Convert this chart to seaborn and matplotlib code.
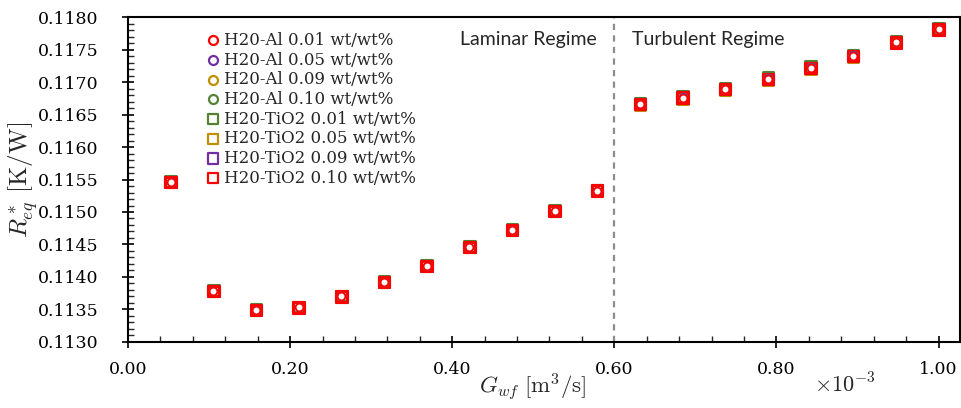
import numpy as np
import pandas as pd
import seaborn as sns
import matplotlib
matplotlib.use("Agg")
import matplotlib.pyplot as plt
from matplotlib.ticker import MultipleLocator, AutoMinorLocator, FormatStrFormatter

# ---------------- data ----------------
flow = [0.0526, 0.1053, 0.1579, 0.2105, 0.2632, 0.3158, 0.3684, 0.4211, 0.4737, 0.5263,
        0.5789, 0.6316, 0.6842, 0.7368, 0.7895, 0.8421, 0.8947, 0.9474, 1.0000]  # x 1e-3 m3/s

r_al_001 = [0.11546, 0.11378, 0.11349, 0.11353, 0.11370, 0.11392, 0.11417, 0.11446, 0.11472, 0.11502,
            0.11533, 0.11666, 0.11676, 0.11689, 0.11705, 0.11722, 0.11740, 0.11761, 0.11781]
r_al_005 = [0.11546, 0.11378, 0.11349, 0.11353, 0.11370, 0.11392, 0.11417, 0.11446, 0.11472, 0.11502,
            0.11533, 0.11667, 0.11677, 0.11690, 0.11706, 0.11723, 0.11741, 0.11762, 0.11782]
r_al_009 = [0.11546, 0.11378, 0.11349, 0.11353, 0.11370, 0.11392, 0.11417, 0.11446, 0.11472, 0.11502,
            0.11533, 0.11667, 0.11677, 0.11690, 0.11706, 0.11723, 0.11741, 0.11762, 0.11782]
r_al_010 = [0.11546, 0.11378, 0.11349, 0.11353, 0.11370, 0.11392, 0.11417, 0.11446, 0.11472, 0.11502,
            0.11533, 0.11667, 0.11677, 0.11690, 0.11706, 0.11723, 0.11741, 0.11762, 0.11782]
r_ti_001 = [0.11547, 0.11379, 0.11350, 0.11354, 0.11371, 0.11393, 0.11418, 0.11447, 0.11473, 0.11503,
            0.11534, 0.11668, 0.11678, 0.11691, 0.11707, 0.11724, 0.11742, 0.11763, 0.11783]
r_ti_005 = [0.11546, 0.11378, 0.11349, 0.11353, 0.11370, 0.11392, 0.11417, 0.11446, 0.11472, 0.11502,
            0.11533, 0.11665, 0.11675, 0.11688, 0.11704, 0.11721, 0.11739, 0.11760, 0.11780]
r_ti_009 = [0.11546, 0.11378, 0.11349, 0.11353, 0.11370, 0.11392, 0.11417, 0.11446, 0.11472, 0.11502,
            0.11533, 0.11666, 0.11676, 0.11689, 0.11705, 0.11722, 0.11740, 0.11761, 0.11781]
r_ti_010 = [0.11546, 0.11378, 0.11349, 0.11353, 0.11370, 0.11392, 0.11417, 0.11446, 0.11472, 0.11502,
            0.11533, 0.11666, 0.11676, 0.11689, 0.11705, 0.11722, 0.11740, 0.11761, 0.11781]

labels = ["H20-Al 0.01 wt/wt%", "H20-Al 0.05 wt/wt%", "H20-Al 0.09 wt/wt%", "H20-Al 0.10 wt/wt%",
          "H20-TiO2 0.01 wt/wt%", "H20-TiO2 0.05 wt/wt%", "H20-TiO2 0.09 wt/wt%", "H20-TiO2 0.10 wt/wt%"]
series = [r_al_001, r_al_005, r_al_009, r_al_010, r_ti_001, r_ti_005, r_ti_009, r_ti_010]
colors = ["#ff0000", "#7030a0", "#bf9000", "#548235", "#548235", "#bf9000", "#7030a0", "#ff0000"]
markers = ["o", "o", "o", "o", "s", "s", "s", "s"]
layers = [12, 11, 10, 9, 4, 5, 6, 7]

xticks = [0.00, 0.20, 0.40, 0.60, 0.80, 1.00]
yticks = [0.1130, 0.1135, 0.1140, 0.1145, 0.1150, 0.1155, 0.1160, 0.1165, 0.1170, 0.1175, 0.1180]

# ---------------- style ----------------
sns.set_theme(style="ticks")
plt.rcParams["font.family"] = ["DejaVu Serif"]
plt.rcParams["mathtext.fontset"] = "cm"

fig = plt.figure(figsize=(9.62, 4.08), dpi=100)
ax = fig.add_axes([0.133, 0.162, 0.865, 0.796])

for vals, lab, col, mk, z in zip(series, labels, colors, markers, layers):
    df = pd.DataFrame({"flow": flow, "R": vals})
    if mk == "o":
        sns.scatterplot(data=df, x="flow", y="R", ax=ax, marker="o", s=30,
                        facecolor="white", edgecolor=col, linewidth=1.2, label=lab, zorder=z)
    else:
        sns.scatterplot(data=df, x="flow", y="R", ax=ax, marker="s", s=56,
                        facecolor="none", edgecolor=col, linewidth=2.2, label=lab, zorder=z)

ax.axvline(0.60, color="#8c8c8c", linestyle=(0, (2.8, 2.4)), linewidth=1.6, zorder=1)
ax.text(0.578, 0.11765, "Laminar Regime", ha="right", va="center", fontsize=14, family="Lato")
ax.text(0.622, 0.11765, "Turbulent Regime", ha="left", va="center", fontsize=14, family="Lato")

ax.set_xlim(0, 1.0265)
ax.set_ylim(0.1130, 0.1180)
ax.set_xticks(xticks)
ax.set_yticks(yticks)
ax.xaxis.set_major_formatter(FormatStrFormatter("%.2f"))
ax.yaxis.set_major_formatter(FormatStrFormatter("%.4f"))
ax.xaxis.set_minor_locator(MultipleLocator(0.04))
ax.yaxis.set_minor_locator(AutoMinorLocator(5))
ax.tick_params(axis="both", which="major", direction="inout", length=9, width=1.2,
               labelsize=12.5, colors="black")
ax.tick_params(axis="x", which="major", pad=9.5)
ax.tick_params(axis="y", which="major", pad=16.5)
ax.tick_params(axis="both", which="minor", direction="in", length=4, width=1.0)
ax.tick_params(top=False, right=False, which="both")
for sp in ax.spines.values():
    sp.set_linewidth(1.5)
    sp.set_color("black")
    sp.set_visible(True)

ax.set_xlabel(r"$G_{wf}\ [\mathrm{m^3/s}]$", fontsize=16.5)
ax.xaxis.set_label_coords(0.486, -0.092)
ax.set_ylabel(r"$R^*_{eq}\ [\mathrm{K/W}]$", fontsize=18)
ax.yaxis.set_label_coords(-0.106, 0.5)
ax.text(0.861, -0.135, r"$\times10^{-3}$", transform=ax.transAxes, ha="center", va="center", fontsize=16)

leg = ax.legend(loc="upper left", bbox_to_anchor=(0.088, 0.965), frameon=False, fontsize=12,
                labelspacing=0.16, handletextpad=0.15, handlelength=1.0, borderpad=0.2,
                borderaxespad=0)
for h, mk in zip(leg.legend_handles, markers):
    if mk == "o":
        h.set_sizes([42])
        h.set_linewidth(1.6)
    else:
        h.set_sizes([58])
        h.set_linewidth(1.6)

fig.savefig("out.png", dpi=100)
